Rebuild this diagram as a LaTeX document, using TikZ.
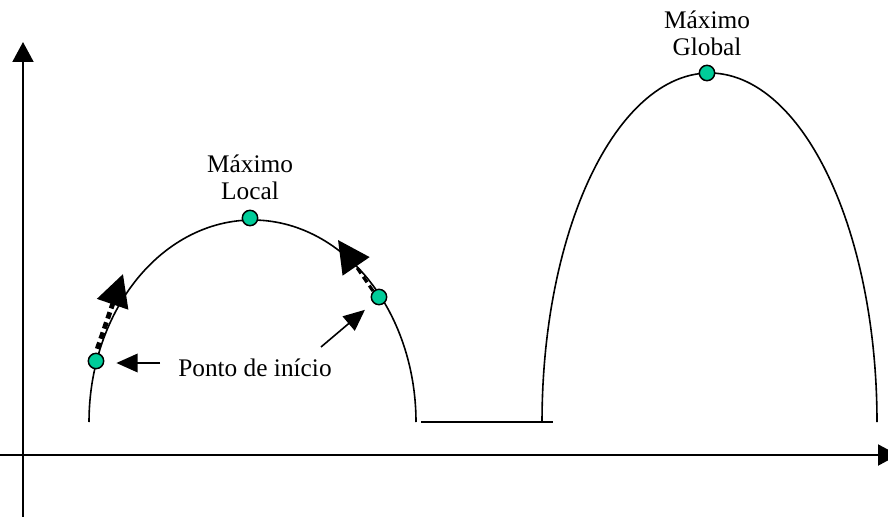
\documentclass[tikz,border=0pt]{standalone}
\usepackage{fontspec}
\setmainfont{Liberation Serif}
\usetikzlibrary{arrows.meta}
\definecolor{dotgreen}{RGB}{0,204,153}
\begin{document}
\begin{tikzpicture}[x=0.75pt,y=-0.75pt,
  axis/.style={line width=1.5pt,-{Triangle[length=15pt,width=15.75pt]}},
  curve/.style={line width=1.2pt},
  dot/.style={circle,draw=black,line width=1.1pt,fill=dotgreen,minimum size=11.5pt,inner sep=0pt},
  lbl/.style={font=\fontsize{19}{20.5}\selectfont,align=center,inner sep=0pt},
  movearrow/.style={dash pattern=on 5pt off 3pt,-{Triangle[length=24pt,width=24pt]}},
  pointer/.style={line width=1.2pt,-{Triangle[length=16pt,width=14pt]}}
]
\useasboundingbox (0,0) rectangle (888,517);
% axes
\coordinate (yb) at (23,517);
\coordinate (yt) at (23,42);
\coordinate (xl) at (0,455);
\coordinate (xr) at (898,455);
\draw[axis] (yb) -- (yt);
\draw[axis] (xl) -- (xr);
% curves
\draw[curve] plot[domain=180:0,samples=120] ({252.5+163.5*cos(\x)},{422-202*sin(\x)});
\draw[curve] plot[domain=180:0,samples=120] ({709.5+167.5*cos(\x)},{422-349*sin(\x)});
\coordinate (hl) at (421,422);
\coordinate (hr) at (553,422);
\draw[curve] (hl) -- (hr);
% dots
\node[dot] (start1) at (96,361) {};
\node[dot] (local) at (250,218) {};
\node[dot] (start2) at (379,297) {};
\node[dot] (global) at (707,73) {};
% labels
\node[lbl] (lloc) at (250,177) {Máximo\\Local};
\node[lbl] (lglob) at (707,33) {Máximo\\Global};
\node[lbl,anchor=west,inner sep=3pt] (ptext) at (174,368) {Ponto de início};
% movement arrows
\coordinate (m1) at (123,274);
\coordinate (m2) at (338,240);
\draw[movearrow,line width=3.6pt,shorten <=3pt] (start1.north) -- (m1);
\draw[movearrow,line width=2.4pt] (start2.north west) -- (m2);
% pointer arrows
\coordinate (p1s) at (160,363);
\coordinate (p2s) at (321,347);
\draw[pointer,shorten >=9pt] (p1s) -- (p1s -| start1.east);
\draw[pointer,shorten >=8pt] (p2s) -- (start2.south west);
\end{tikzpicture}
\end{document}
